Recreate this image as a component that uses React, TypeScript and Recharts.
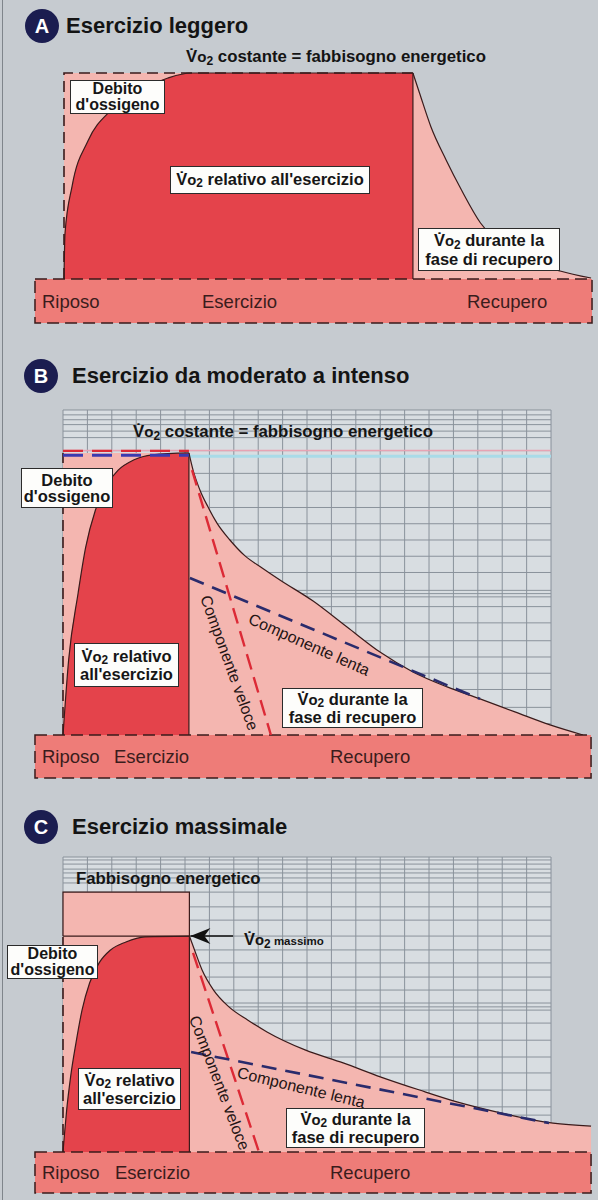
import React from "react";
import { ComposedChart, Area, Line, XAxis, YAxis, ReferenceArea } from "recharts";

type Pt = { x: number; y: number | null };

const BG = "#c6cbd0";
const GRID_BG = "#d8dde1";
const GRID = "#8a929b";
const RED = "#e4434b";
const PINK = "#f4b6b0";
const BAR = "#ee7c78";
const INK = "#3a1b1b";
const DASH_RED = "#dc2a36";
const DASH_BLUE = "#2a2b6c";
const FONT = '"Liberation Sans", Arial, Helvetica, sans-serif';

// carta millimetrata: colonne (tempo) e righe (VO2), unità del grafico
const gridCols = [0, 1, 2, 3, 4, 5, 6, 7, 8, 9, 10, 11, 12, 13, 14, 15, 16, 17, 18, 19, 20];
const gridRowsB = [100, 98.5, 97, 95.5, 93.5, 91.5, 87.5, 80.5, 75, 70, 65, 60, 55, 50, 44.5, 43.5, 42.5, 39.5, 34.5, 29, 24, 19, 14, 8.5, 3.5];
const gridRowsC = [100, 99, 97.6, 95.9, 94.6, 92.9, 91.2, 88.1, 83.1, 78.6, 73.2, 68.5, 64.1, 59.3, 54.9, 50.5, 49.2, 48.1, 43.7, 37.9, 32.2, 26.8, 21, 15.3, 12.5, 9.5, 5];

// A - esercizio leggero
const exerciseA: Pt[] = [
  { x: 0, y: 0 }, { x: 0.04, y: 22 }, { x: 0.33, y: 45 }, { x: 0.98, y: 67 }, { x: 1.93, y: 82 },
  { x: 3.16, y: 92 }, { x: 4.26, y: 97.6 }, { x: 5.2, y: 100 }, { x: 14.3, y: 100 },
];
const recoveryA: Pt[] = [
  { x: 14.3, y: 100 }, { x: 14.57, y: 90.3 }, { x: 15.04, y: 73.8 }, { x: 15.66, y: 57.8 }, { x: 16.29, y: 43.2 },
  { x: 17.07, y: 27.2 }, { x: 18.48, y: 13.1 }, { x: 20.33, y: 3.9 }, { x: 21.6, y: 0.5 },
];
const demandA: Pt[] = [{ x: 0, y: 100 }, { x: 14.3, y: 100 }];
const outlineA: Pt[] = [{ x: 0, y: 0 }, { x: 0, y: 100 }, { x: 14.3, y: 100 }];
const edgeA: Pt[] = [{ x: 14.3, y: 100 }, { x: 14.3, y: 0 }];

// B - esercizio da moderato a intenso
const exerciseB: Pt[] = [
  { x: 0, y: 0 }, { x: 0.23, y: 23 }, { x: 0.62, y: 43.7 }, { x: 0.93, y: 57.8 }, { x: 1.32, y: 69 },
  { x: 1.8, y: 77 }, { x: 2.26, y: 81.5 }, { x: 2.89, y: 84.6 }, { x: 3.67, y: 86.2 }, { x: 5.16, y: 86.8 },
];
const recoveryB: Pt[] = [
  { x: 5.16, y: 86.8 }, { x: 5.33, y: 81.5 }, { x: 5.61, y: 75.4 }, { x: 5.94, y: 70.2 }, { x: 6.31, y: 65.2 },
  { x: 6.84, y: 60 }, { x: 7.46, y: 55.1 }, { x: 8.16, y: 51.4 }, { x: 8.89, y: 47.7 }, { x: 10.25, y: 41.2 },
  { x: 11.64, y: 33.2 }, { x: 12.99, y: 25.5 }, { x: 14.34, y: 19.4 }, { x: 15.74, y: 14.8 }, { x: 17.09, y: 11.1 },
  { x: 18.52, y: 7.1 }, { x: 19.96, y: 3.1 }, { x: 21.31, y: 0 },
];
const demandB: Pt[] = [{ x: 0, y: 86.8 }, { x: 5.16, y: 86.8 }];
const fastB: Pt[] = [{ x: 5.29, y: 81.5 }, { x: 8.52, y: 0 }];
const slowB: Pt[] = [{ x: 5.2, y: 48.3 }, { x: 17.09, y: 11.1 }];
const leftB: Pt[] = [{ x: 0, y: 0 }, { x: 0, y: 86.8 }];
const edgeB: Pt[] = [{ x: 5.16, y: 86.8 }, { x: 5.16, y: 0 }];

// C - esercizio massimale
const exerciseC: Pt[] = [
  { x: 0, y: 0 }, { x: 0.06, y: 6 }, { x: 0.15, y: 14.2 }, { x: 0.31, y: 25.4 }, { x: 0.53, y: 36.9 },
  { x: 0.78, y: 48.1 }, { x: 1.09, y: 57.3 }, { x: 1.48, y: 64.1 }, { x: 1.95, y: 68.5 }, { x: 2.58, y: 71.2 },
  { x: 3.36, y: 72.9 }, { x: 5.18, y: 73.2 },
];
const recoveryC: Pt[] = [
  { x: 5.18, y: 73.2 }, { x: 5.39, y: 68.5 }, { x: 5.7, y: 61.7 }, { x: 6.17, y: 54.9 }, { x: 6.8, y: 49.2 },
  { x: 7.58, y: 44.7 }, { x: 8.36, y: 40.7 }, { x: 9.92, y: 34.6 }, { x: 11.48, y: 30.2 }, { x: 13.03, y: 25.4 },
  { x: 14.61, y: 21 }, { x: 16.18, y: 16.9 }, { x: 17.75, y: 13.6 }, { x: 19.3, y: 10.8 }, { x: 20.08, y: 9.8 },
  { x: 21.64, y: 8.8 },
];
const demandC: Pt[] = [{ x: 0, y: 88.1 }, { x: 5.18, y: 88.1 }];
const demandOutlineC: Pt[] = [{ x: 0, y: 73.2 }, { x: 0, y: 88.1 }, { x: 5.18, y: 88.1 }, { x: 5.18, y: 73.2 }];
const maxLineC: Pt[] = [{ x: 0, y: 73.2 }, { x: 5.18, y: 73.2 }];
const leftC: Pt[] = [{ x: 0, y: 0 }, { x: 0, y: 73.2 }];
const edgeC: Pt[] = [{ x: 5.18, y: 73.2 }, { x: 5.18, y: 0 }];
const fastC: Pt[] = [{ x: 5.33, y: 67.5 }, { x: 8.03, y: 0 }];
const slowC: Pt[] = [{ x: 5.25, y: 33.9 }, { x: 19.92, y: 9.8 }];
const arrowC: Pt[] = [{ x: 5.22, y: 73.2 }, { x: 6.97, y: 73.2 }];

const hLines = (rows: number[], x0: number, x1: number): Pt[] =>
  rows.flatMap((r) => [{ x: x0, y: r }, { x: x1, y: r }, { x: x1, y: null }]);
const vLines = (cols: number[], y0: number, y1: number): Pt[] =>
  cols.flatMap((c) => [{ x: c, y: y1 }, { x: c, y: y0 }, { x: c, y: null }]);

const line = { type: "linear" as const, dataKey: "y", dot: false, activeDot: false, isAnimationActive: false };
const area = { dataKey: "y", baseValue: 0, fillOpacity: 1, activeDot: false, isAnimationActive: false };
// le righe della griglia sono Area senza riempimento, così restano sotto le aree rosa
const gridArea = { ...area, type: "linear" as const, fill: "none", stroke: GRID, strokeWidth: 1 };

function ChartA() {
  return (
    <ComposedChart width={598} height={275} margin={{ top: 8, right: 5, bottom: 11, left: 34 }}>
      <XAxis type="number" dataKey="x" domain={[-1.2295, 21.68]} allowDataOverflow hide />
      <YAxis type="number" domain={[-21.84, 102.43]} allowDataOverflow hide />
      <Area {...area} data={demandA} type="linear" fill={PINK} stroke="none" />
      <Area {...area} data={recoveryA} type="monotone" fill={PINK} stroke={INK} strokeWidth={1.2} />
      <Line {...line} data={outlineA} stroke={INK} strokeWidth={1.6} strokeDasharray="11 6" />
      <Area {...area} data={exerciseA} type="monotone" fill={RED} stroke={INK} strokeWidth={1.2} />
      <Line {...line} data={edgeA} stroke={INK} strokeWidth={1.2} />
      <ReferenceArea x1={-1.189} x2={21.64} y1={-21.36} y2={0} fill={BAR} fillOpacity={1} stroke={INK} strokeWidth={1.5} strokeDasharray="12 6" />
    </ComposedChart>
  );
}

function ChartB() {
  return (
    <ComposedChart width={598} height={390} margin={{ top: 7, right: 5, bottom: 11, left: 34 }}>
      <XAxis type="number" dataKey="x" domain={[-1.1885, 21.72]} allowDataOverflow hide />
      <YAxis type="number" domain={[-13.54, 100.92]} allowDataOverflow hide />
      <Area {...area} data={[{ x: 0, y: 100 }, { x: 20, y: 100 }]} type="linear" fill={GRID_BG} stroke="none" />
      <Area {...gridArea} data={hLines(gridRowsB, 0, 20)} />
      <Area {...gridArea} data={vLines(gridCols, 0, 100)} />
      <Area {...area} data={[{ x: 0, y: 85.8 }, { x: 20, y: 85.8 }]} type="linear" fill="none" stroke="#a9dbe8" strokeWidth={3} />
      <Area {...area} data={[{ x: 0, y: 87.5 }, { x: 20, y: 87.5 }]} type="linear" fill="none" stroke="#e7a3b3" strokeWidth={1.5} />
      <Area {...area} data={demandB} type="linear" fill={PINK} stroke="none" />
      <Area {...area} data={recoveryB} type="monotone" fill={PINK} stroke={INK} strokeWidth={1.2} />
      <Line {...line} data={leftB} stroke={INK} strokeWidth={1.6} strokeDasharray="11 6" />
      <Area {...area} data={exerciseB} type="monotone" fill={RED} stroke={INK} strokeWidth={1.2} />
      <Line {...line} data={edgeB} stroke={INK} strokeWidth={1.2} />
      <Line {...line} data={[{ x: 0, y: 86.1 }, { x: 5.16, y: 86.1 }]} stroke="#3a3ab0" strokeWidth={3} strokeDasharray="20 9" />
      <Line {...line} data={[{ x: 0, y: 87.4 }, { x: 5.16, y: 87.4 }]} stroke={DASH_RED} strokeWidth={2.2} strokeDasharray="20 9" />
      <Line {...line} data={fastB} stroke={DASH_RED} strokeWidth={2.4} strokeDasharray="16 8" />
      <Line {...line} data={slowB} stroke={DASH_BLUE} strokeWidth={2.6} strokeDasharray="15 9" />
      <ReferenceArea x1={-1.148} x2={21.64} y1={-13.23} y2={0} fill={BAR} fillOpacity={1} stroke={INK} strokeWidth={1.5} strokeDasharray="12 6" />
    </ComposedChart>
  );
}

const arrowHead = (p: any) => {
  if (p.index !== 0) return <g key={p.key ?? `a${p.index}`} />;
  const { cx, cy } = p;
  return (
    <polygon
      key={p.key ?? "head"}
      points={`${cx},${cy} ${cx + 20},${cy - 8} ${cx + 14},${cy} ${cx + 20},${cy + 8}`}
      fill="#111"
    />
  );
};

function ChartC() {
  return (
    <ComposedChart width={598} height={350} margin={{ top: 4, right: 5, bottom: 6, left: 34 }}>
      <XAxis type="number" dataKey="x" domain={[-1.1885, 21.72]} allowDataOverflow hide />
      <YAxis type="number" domain={[-14.24, 101.02]} allowDataOverflow hide />
      <Area {...area} data={[{ x: 0, y: 100 }, { x: 20, y: 100 }]} type="linear" fill={GRID_BG} stroke="none" />
      <Area {...gridArea} data={hLines(gridRowsC, 0, 20)} />
      <Area {...gridArea} data={vLines(gridCols, 0, 100)} />
      <Area {...area} data={demandC} type="linear" fill={PINK} stroke="none" />
      <Area {...area} data={recoveryC} type="monotone" fill={PINK} stroke={INK} strokeWidth={1.2} />
      <Line {...line} data={demandOutlineC} stroke={INK} strokeWidth={1.2} />
      <Line {...line} data={leftC} stroke={INK} strokeWidth={1.6} strokeDasharray="11 6" />
      <Area {...area} data={exerciseC} type="monotone" fill={RED} stroke={INK} strokeWidth={1.2} />
      <Line {...line} data={maxLineC} stroke={INK} strokeWidth={1.2} />
      <Line {...line} data={edgeC} stroke={INK} strokeWidth={1.2} />
      <Line {...line} data={fastC} stroke={DASH_RED} strokeWidth={2.4} strokeDasharray="16 8" />
      <Line {...line} data={slowC} stroke={DASH_BLUE} strokeWidth={2.6} strokeDasharray="15 9" />
      <Line {...line} data={arrowC} stroke="#111" strokeWidth={1.5} dot={arrowHead} />
      <ReferenceArea x1={-1.148} x2={21.64} y1={-13.9} y2={0} fill={BAR} fillOpacity={1} stroke={INK} strokeWidth={1.5} strokeDasharray="12 6" />
    </ComposedChart>
  );
}

const Vo2 = () => (
  <span>
    {"V\u0307"}
    <span style={{ fontSize: "0.9em" }}>o</span>
    <span style={{ fontSize: "0.72em", position: "relative", top: "0.22em" }}>2</span>
  </span>
);

function Box({ l, t, w, h, fs = 16.5, children }: { l: number; t: number; w: number; h: number; fs?: number; children: React.ReactNode }) {
  return (
    <div
      style={{
        position: "absolute", left: l, top: t, width: w, height: h, boxSizing: "border-box",
        background: "#fdfdfb", border: "1.5px solid #2b2b2b", display: "flex", alignItems: "center",
        justifyContent: "center", textAlign: "center", fontWeight: 700, fontSize: fs,
        lineHeight: `${fs}px`, color: "#161616", whiteSpace: "nowrap",
      }}
    >
      <div>{children}</div>
    </div>
  );
}

function T({ l, cy, fs, bold = true, color = "#141414", children }: { l: number; cy: number; fs: number; bold?: boolean; color?: string; children: React.ReactNode }) {
  return (
    <div style={{ position: "absolute", left: l, top: cy - fs * 0.65, lineHeight: `${fs * 1.3}px`, fontSize: fs, fontWeight: bold ? 700 : 400, color, whiteSpace: "nowrap" }}>
      {children}
    </div>
  );
}

function Rot({ cx, cy, angle, children }: { cx: number; cy: number; angle: number; children: React.ReactNode }) {
  return (
    <div style={{ position: "absolute", left: cx, top: cy, transform: `translate(-50%, -50%) rotate(${angle}deg)`, fontSize: 16, lineHeight: "18px", color: "#241414", whiteSpace: "nowrap" }}>
      {children}
    </div>
  );
}

function Badge({ cx, cy, letter }: { cx: number; cy: number; letter: string }) {
  return (
    <div style={{ position: "absolute", left: cx - 17, top: cy - 17, width: 34, height: 34, borderRadius: "50%", background: "#1b1d50", color: "#fff", fontWeight: 700, fontSize: 20, lineHeight: "34px", textAlign: "center" }}>
      {letter}
    </div>
  );
}

function BarLabels({ cy, esercizio, recupero }: { cy: number; esercizio: number; recupero: number }) {
  return (
    <>
      <T l={42} cy={cy} fs={18.5} bold={false} color="#3a1c1c">Riposo</T>
      <T l={esercizio} cy={cy} fs={18.5} bold={false} color="#3a1c1c">Esercizio</T>
      <T l={recupero} cy={cy} fs={18.5} bold={false} color="#3a1c1c">Recupero</T>
    </>
  );
}

export default function App() {
  return (
    <div style={{ position: "absolute", left: 0, top: 0, width: 598, height: 1200, background: BG, overflow: "hidden", fontFamily: FONT }}>
      <div style={{ position: "absolute", left: 2, top: 0, width: 1, height: 1200, background: "#7f858b" }} />

      {/* A */}
      <div style={{ position: "absolute", left: 0, top: 60 }}><ChartA /></div>
      <Badge cx={42} cy={26} letter="A" />
      <T l={66} cy={26} fs={22}>Esercizio leggero</T>
      <T l={186} cy={57} fs={16.8}><Vo2 /> costante = fabbisogno energetico</T>
      <Box l={70} t={80} w={95} h={34} fs={16}>Debito<br />d'ossigeno</Box>
      <Box l={170} t={166} w={200} h={28}><Vo2 /> relativo all'esercizio</Box>
      <Box l={418} t={228} w={142} h={43}><Vo2 /> durante la<br />fase di recupero</Box>
      <BarLabels cy={302} esercizio={202} recupero={467} />

      {/* B */}
      <div style={{ position: "absolute", left: 0, top: 400 }}><ChartB /></div>
      <Badge cx={41} cy={376} letter="B" />
      <T l={72} cy={376} fs={22}>Esercizio da moderato a intenso</T>
      <T l={133} cy={432} fs={16.8}><Vo2 /> costante = fabbisogno energetico</T>
      <Box l={21} t={468} w={92} h={40}>Debito<br />d'ossigeno</Box>
      <Box l={74} t={643} w={105} h={44}><Vo2 /> relativo<br />all'esercizio</Box>
      <Box l={282} t={688} w={141} h={40}><Vo2 /> durante la<br />fase di recupero</Box>
      <Rot cx={229} cy={663} angle={70}>Componente veloce</Rot>
      <Rot cx={309} cy={645} angle={24}>Componente lenta</Rot>
      <BarLabels cy={757} esercizio={114} recupero={330} />

      {/* C */}
      <div style={{ position: "absolute", left: 0, top: 850 }}><ChartC /></div>
      <Badge cx={41} cy={827} letter="C" />
      <T l={72} cy={827} fs={22}>Esercizio massimale</T>
      <T l={76} cy={879} fs={16.8}>Fabbisogno energetico</T>
      <T l={244} cy={940} fs={16.5}><Vo2 /><span style={{ fontSize: 11.5 }}> massimo</span></T>
      <Box l={7} t={945} w={91} h={34} fs={16}>Debito<br />d'ossigeno</Box>
      <Box l={78} t={1068} w={103} h={42}><Vo2 /> relativo<br />all'esercizio</Box>
      <Box l={286} t={1108} w={139} h={40}><Vo2 /> durante la<br />fase di recupero</Box>
      <Rot cx={219} cy={1083} angle={69}>Componente veloce</Rot>
      <Rot cx={301} cy={1088} angle={13.5}>Componente lenta</Rot>
      <BarLabels cy={1173} esercizio={115} recupero={330} />
    </div>
  );
}
